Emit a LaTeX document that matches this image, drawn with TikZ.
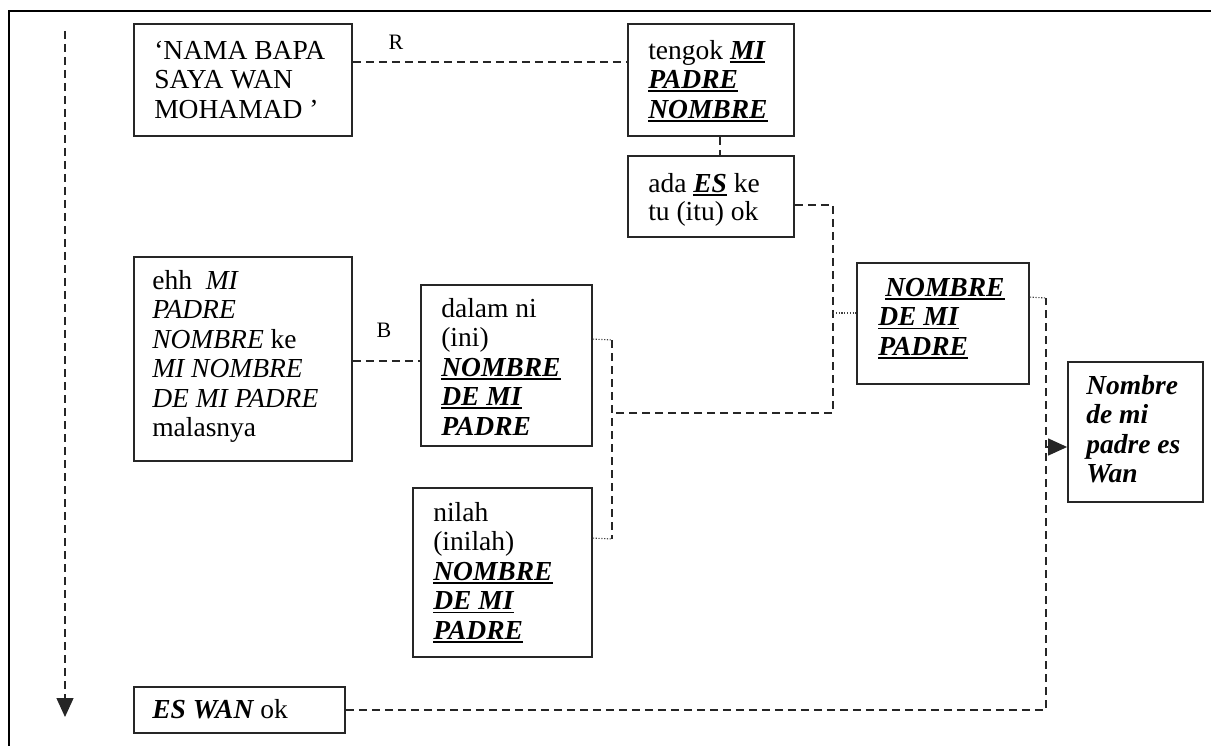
\documentclass[tikz,border=0pt]{standalone}
\usepackage{fontspec}
\setmainfont{Liberation Serif}
\usetikzlibrary{arrows.meta}
\newcommand{\myul}[1]{\setbox0\hbox{#1}\rlap{\rule[-3.5pt]{\wd0}{1.6pt}}\box0}
\newcommand{\bu}[1]{\myul{\bfseries\itshape #1}}
\newcommand{\bi}[1]{{\bfseries\itshape #1}}
\newcommand{\tb}[1]{\parbox[t]{240pt}{\fontsize{27.5}{29.5}\selectfont #1}}
\tikzset{
  box/.style={draw=black!85, line width=1.8pt, inner sep=0pt, fill=none},
  txt/.style={anchor=base west, inner sep=0pt},
  lbl/.style={inner sep=0pt, font=\fontsize{22}{24}\selectfont},
  dsh/.style={draw=black!85, line width=1.3pt, dash pattern=on 8pt off 5pt},
  dot/.style={draw=black!75, line width=1.1pt, dash pattern=on 1.2pt off 1.6pt},
  arr/.style={draw=black!85, line width=1.3pt, -{Triangle[length=19pt,width=17pt]}},
}
\begin{document}
\begin{tikzpicture}[x=1pt,y=1pt]
\useasboundingbox (0,0) rectangle (1211,-746);
% frame
\draw[line width=2.7pt, draw=black] (9,-760) -- (9,-11) -- (1230,-11);

% boxes
\node[box, minimum width=218pt, minimum height=112pt] (b1) at (243,-80) {};
\node[box, minimum width=166pt, minimum height=112pt] (b2) at (711,-80) {};
\node[box, minimum width=166pt, minimum height=81pt] (b3) at (711,-196.5) {};
\node[box, minimum width=218pt, minimum height=204pt] (b4) at (243,-359) {};
\node[box, minimum width=171pt, minimum height=161pt] (b5) at (506.5,-365.5) {};
\node[box, minimum width=179pt, minimum height=169pt] (b6) at (502.5,-572.5) {};
\node[box, minimum width=172pt, minimum height=121pt] (b7) at (943,-323.5) {};
\node[box, minimum width=135pt, minimum height=140pt] (b8) at (1135.5,-432) {};
\node[box, minimum width=211pt, minimum height=46pt] (b9) at (239.5,-710) {};

% texts
\node[txt] (t1) at ([xshift=21pt,yshift=-36pt]b1.north west)
  {\tb{‘NAMA BAPA\\SAYA WAN\\MOHAMAD ’}};
\node[txt] (t2) at ([xshift=21pt,yshift=-36pt]b2.north west)
  {\tb{tengok \bu{MI}\\\bu{PADRE}\\\bu{NOMBRE}}};
\node[txt] (t3) at ([xshift=21pt,yshift=-37pt]b3.north west)
  {\parbox[t]{240pt}{\fontsize{27.5}{28}\selectfont ada \bu{ES} \ ke\\tu (itu) ok}};
\node[txt] (t4) at ([xshift=19pt,yshift=-33pt]b4.north west)
  {\tb{ehh \ \textit{MI}\\\textit{PADRE}\\\textit{NOMBRE} ke\\\textit{MI NOMBRE}\\\textit{DE MI PADRE}\\malasnya}};
\begin{scope}
  \clip (421,-285) rectangle (592,-434);
  \node[txt] (t5) at ([xshift=21pt,yshift=-33pt]b5.north west)
    {\tb{dalam ni\\(ini)\\\bu{NOMBRE}\\\bu{DE MI}\\\bu{PADRE}}};
\end{scope}
\node[txt] (t6) at ([xshift=21pt,yshift=-34pt]b6.north west)
  {\tb{nilah\\(inilah)\\\bu{NOMBRE}\\\bu{DE MI}\\\bu{PADRE}}};
\node[txt] (t7) at ([xshift=22pt,yshift=-34pt]b7.north west)
  {\tb{\hspace*{7pt}\bu{NOMBRE}\\\bu{DE MI}\\\bu{PADRE}}};
\node[txt] (t8) at ([xshift=19pt,yshift=-33pt]b8.north west)
  {\tb{\bi{Nombre}\\\bi{de mi}\\\bi{padre es}\\\bi{Wan}}};
\node[txt] (t9) at ([xshift=19pt,yshift=-32pt]b9.north west)
  {\tb{\bi{ES WAN} ok}};

% labels
\node[lbl] (lR) at (396,-42) {R};
\node[lbl] (lB) at (384,-330) {B};

% junction coordinates
\coordinate (s0) at (65,-31);
\coordinate (s1) at (65,-717);
\coordinate (jA) at (833,-413);
\coordinate (jB) at (612,-413);
\coordinate (jC) at (612,-340);
\coordinate (jD) at (612,-539);
\coordinate (jE) at (833,-313);
\coordinate (jF) at (1046,-298);
\coordinate (jH) at (1046,-447);
\coordinate (jI) at ([yshift=-77pt]b5.north west);

% connectors
\draw[dsh, arr] (s0) -- (s1);
\draw[dsh] ([yshift=-39pt]b1.north east) -- ([yshift=-39pt]b2.north west);
\draw[dsh] ([xshift=9pt]b2.south) -- ([xshift=9pt]b3.north);
\draw[dsh] ([yshift=-50pt]b3.north east) -| (jA) -- (jB);
\draw[dsh] (jI -| b4.east) -- (jI);
\draw[dsh] (jC) -- (jD);
\draw[dot] ([yshift=-55pt]b5.north east) -- (jC);
\draw[dot] ([yshift=-51pt]b6.north east) -- (jD);
\draw[dot] (jE) -- (jE -| b7.west);
\draw[dot] ([yshift=-35pt]b7.north east) -- (jF);
\draw[dsh] (b9.east) -| (jF);
\draw[arr] (jH) -- (jH -| b8.west);
\end{tikzpicture}
\end{document}
